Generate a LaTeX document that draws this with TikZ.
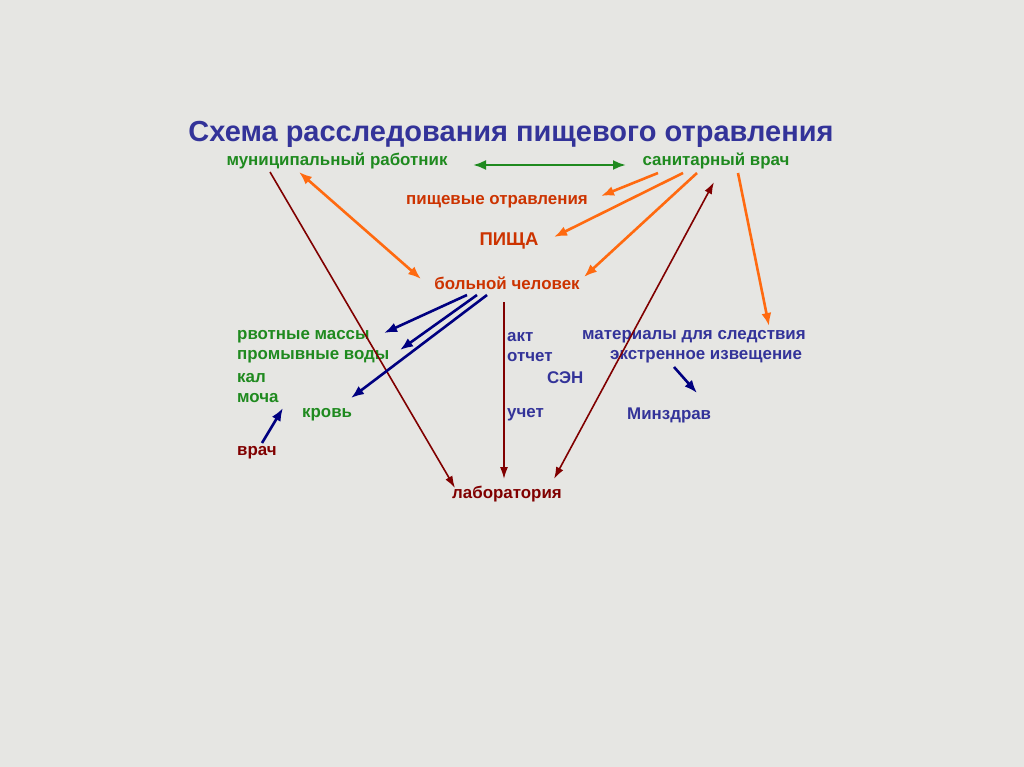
\documentclass[tikz,border=0pt]{standalone}
\usepackage{fontspec}
\setmainfont{Liberation Sans}
\usetikzlibrary{arrows.meta}
\definecolor{bg}{HTML}{E6E6E3}
\definecolor{ttl}{HTML}{333399}
\definecolor{grn}{HTML}{1F8A1F}
\definecolor{ored}{HTML}{CC3300}
\definecolor{orng}{HTML}{FF6A10}
\definecolor{dblue}{HTML}{000080}
\definecolor{dred}{HTML}{800000}
\definecolor{btxt}{HTML}{333399}
\begin{document}
\begin{tikzpicture}[x=1pt,y=-1pt,
  lbl/.style={inner sep=0pt,font=\fontsize{16.9}{20}\selectfont\bfseries},
  lft/.style={lbl,anchor=west},
  tip/.style={-{Latex[length=13pt,width=10pt]}},
  dtip/.style={{Latex[length=13pt,width=10pt]}-{Latex[length=13pt,width=10pt]}},
  rtip/.style={-{Latex[length=12pt,width=8pt]}},
  rdtip/.style={{Latex[length=12pt,width=8pt]}-{Latex[length=12pt,width=8pt]}},
  oarr/.style={orng,line width=2.6pt},
  barr/.style={dblue,line width=2.6pt},
  rarr/.style={dred,line width=1.6pt},
  garr/.style={grn,line width=2.4pt}]
\fill[bg] (0,0) rectangle (1024,767);
\useasboundingbox (0,0) rectangle (1024,767);
\node[inner sep=0pt,font=\fontsize{29}{34}\selectfont\bfseries,text=ttl] (title) at (511,134) {Схема расследования пищевого отравления};
\node[lbl,text=grn] (mun) at (337,161) {муниципальный работник};
\node[lbl,text=grn] (san) at (716,161) {санитарный врач};
\node[lbl,text=ored] (po) at (497,202) {пищевые отравления};
\node[lbl,text=ored,font=\fontsize{18.5}{21}\selectfont\bfseries] (pis) at (509,241) {ПИЩА};
\node[lbl,text=ored] (bol) at (507,283) {больной человек};
\node[lft,text=grn] (rv) at (237,337) {рвотные массы};
\node[lft,text=grn] (pr) at (237,357) {промывные воды};
\node[lft,text=grn] (kal) at (237,378) {кал};
\node[lft,text=grn] (moch) at (237,398) {моча};
\node[lft,text=grn] (krov) at (302,415) {кровь};
\node[lft,text=dred] (vr) at (237,453) {врач};
\node[lft,text=btxt] (akt) at (507,337) {акт};
\node[lft,text=btxt] (otch) at (507,357) {отчет};
\node[lft,text=btxt] (sen) at (547,378) {СЭН};
\node[lft,text=btxt] (uch) at (507,415) {учет};
\node[lft,text=btxt] (mat) at (582,337) {материалы для следствия};
\node[lft,text=btxt] (ekst) at (610,357) {экстренное извещение};
\node[lft,text=btxt] (minz) at (627,415) {Минздрав};
\node[lbl,text=dred] (lab) at (507,494) {лаборатория};
% coordinates
\coordinate (g1) at (473,165); \coordinate (g2) at (626,165);
\coordinate (m1) at (299,172); \coordinate (b1) at (421,279);
\coordinate (s1) at (658,173); \coordinate (p1) at (601,196);
\coordinate (s2) at (683,173); \coordinate (q1) at (554,237);
\coordinate (s3) at (697,173); \coordinate (b2) at (584,277);
\coordinate (s4) at (738,173); \coordinate (ma) at (769,326);
\coordinate (m2) at (270,172); \coordinate (l1) at (455,488);
\coordinate (b3) at (504,302); \coordinate (l2) at (504,479);
\coordinate (l3) at (554,479); \coordinate (s5) at (714,182);
\coordinate (b4) at (467,295); \coordinate (rv1) at (384,333);
\coordinate (b5) at (477,295); \coordinate (pr1) at (400,350);
\coordinate (b6) at (487,295); \coordinate (kr1) at (351,398);
\coordinate (v1) at (262,443); \coordinate (mo1) at (283,408);
\coordinate (e1) at (674,367); \coordinate (mz1) at (697,393);
% connectors
\draw[garr,dtip] (g1) -- (g2);
\draw[oarr,dtip] (m1) -- (b1);
\draw[oarr,tip] (s1) -- (p1);
\draw[oarr,tip] (s2) -- (q1);
\draw[oarr,tip] (s3) -- (b2);
\draw[oarr,tip] (s4) -- (ma);
\draw[rarr,rtip] (m2) -- (l1);
\draw[rarr,rtip] (b3) -- (l2);
\draw[rarr,rdtip] (l3) -- (s5);
\draw[barr,tip] (b4) -- (rv1);
\draw[barr,tip] (b5) -- (pr1);
\draw[barr,tip] (b6) -- (kr1);
\draw[barr,tip] (v1) -- (mo1);
\draw[barr,tip] (e1) -- (mz1);
\end{tikzpicture}
\end{document}
